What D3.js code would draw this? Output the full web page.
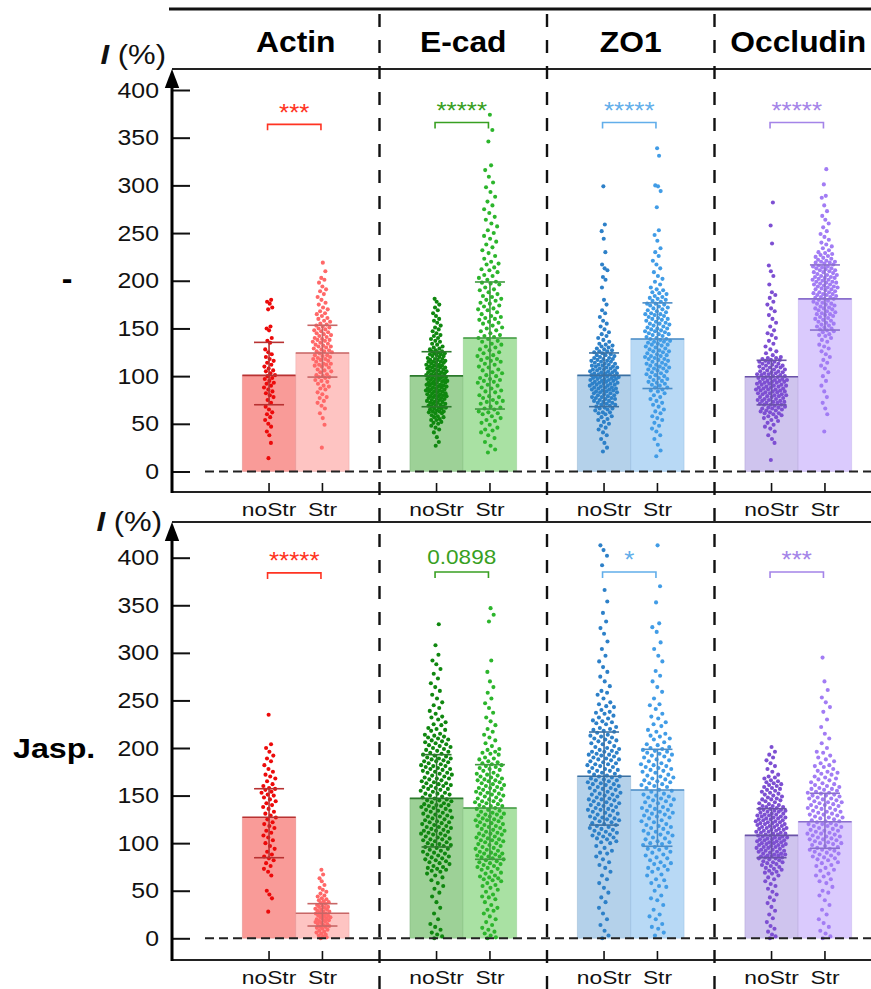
<!DOCTYPE html>
<html>
<head>
<meta charset="utf-8">
<script src="https://cdn.jsdelivr.net/npm/d3@7"></script>
<style>
  body { margin: 0; background: #fff; }
  svg text { font-family: "Liberation Sans", Arial, Helvetica, sans-serif; }
</style>
</head>
<body>
<svg id="chart" width="871" height="989"></svg>
<script>
// ---- categories & labels ----
const proteins = ["Actin", "E-cad", "ZO1", "Occludin"];
const conditions = ["noStr", "Str"];
const treatments = ["-", "Jasp."];
const yTicks = [0, 50, 100, 150, 200, 250, 300, 350, 400];

// ---- bar heights (mean) and whiskers, [protein][condition] ----
const meanCtrl  = [[100.8, 124.2], [100.3, 140.0], [100.8, 139.0], [99.4, 181.0]];
const lowerCtrl = [[70.0, 99.0], [67.9, 65.5], [68.0, 87.0], [69.9, 148.3]];
const upperCtrl = [[135.4, 153.3], [125.6, 198.7], [124.3, 176.8], [116.6, 216.6]];
const meanJasp  = [[127.2, 26.3], [147.1, 137.0], [170.3, 155.9], [108.2, 122.5]];
const lowerJasp = [[84.7, 12.9], [96.0, 83.0], [119.0, 96.7], [84.7, 94.6]];
const upperJasp = [[157.2, 36.4], [193.0, 182.5], [216.8, 198.6], [136.2, 152.4]];

// ---- significance ----
const sigCtrl = ["***", "*****", "*****", "*****"];
const sigJasp = ["*****", "0.0898", "*", "***"];
const sigLevelCtrl = [364, 366, 366, 366];
const sigLevelJasp = [384, 385, 385, 385];

// ---- single-cell intensities, untreated ----
const actinNoStrCtrl = [14,30,38,42,47,50,54,57,60,62,65,68,72,75,78,80,82,84,86,88,90,92,93,95,97,98,100,101,103,105,106,108,110,112,114,116,118,120,123,125,128,135,137,140,148,150,152,170,172,176,178,180];
const actinStrCtrl = [25,49,56,61,66,69,72,74,77,78,81,83,86,87,89,90,92,94,95,96,98,99,99,101,102,104,105,106,107,109,110,111,112,113,113,115,116,117,118,119,120,121,122,122,124,125,126,127,128,129,130,131,131,133,134,135,136,137,138,139,140,141,142,144,145,146,147,148,149,150,152,153,154,155,157,158,160,161,163,165,166,168,170,172,175,177,180,183,186,189,191,194,198,201,203,210,219,100,112,118,126,132,138,143,151];
const ecadNoStrCtrl = [27,31,36,41,44,46,48,50,51,52,54,54,55,57,57,58,59,61,61,62,63,63,64,65,66,66,67,67,68,69,69,70,71,71,72,73,73,74,75,75,76,77,77,78,79,79,80,80,81,82,82,83,84,84,85,86,86,87,87,88,89,89,90,90,91,91,92,93,93,94,94,95,96,96,97,98,98,99,100,100,101,101,102,103,103,104,105,105,106,107,107,108,109,109,110,110,111,112,112,113,114,115,115,116,117,118,118,119,120,121,122,123,123,124,125,126,127,128,129,130,131,133,134,136,137,139,140,142,143,145,147,149,151,153,156,158,160,163,166,169,172,175,178,181,63,72,76,81,85,88,93,97,99,102,106,111,114,117,121,124,79,91,104,115,68,84,96,109,126];
const ecadStrCtrl = [20,23,27,31,35,38,41,43,46,49,51,53,56,58,61,62,65,67,68,71,73,74,77,79,80,83,84,87,88,91,93,94,97,98,101,103,104,106,109,110,113,115,116,119,121,122,125,127,128,131,133,134,137,139,141,142,145,147,148,151,153,155,156,159,161,162,165,167,169,171,173,174,177,179,181,184,186,188,191,193,196,198,201,203,206,209,212,214,217,220,223,226,229,232,235,238,241,244,247,250,253,257,260,264,267,271,275,279,283,288,293,298,303,309,316,321,346,358,374,44,54,60,66,72,78,85,90,96,100,107,112,118,124,130,136,143,150,157,163,170,176,183,190,197,205,211,218,63,75,95,117,140,160,180,199];
const zo1NoStrCtrl = [21,25,30,34,38,41,44,46,48,50,52,54,55,57,58,60,61,62,64,65,66,67,68,69,70,71,72,72,73,74,75,76,77,77,78,79,80,80,81,82,83,83,84,85,86,86,87,88,88,89,90,90,91,92,92,93,94,94,95,95,96,97,97,98,99,99,100,100,101,102,102,103,104,104,105,106,106,107,108,108,109,110,111,111,112,113,114,115,115,116,117,118,119,120,121,122,123,124,125,126,127,128,130,131,133,134,136,138,140,142,144,146,149,152,155,158,162,166,169,175,180,193,201,204,211,213,217,230,244,252,259,299,62,66,70,74,78,82,85,88,91,93,96,98,101,103,105,107,110,113,116,119,122,126,129,132,76,87,97,100,109,118,84,92,103,112];
const zo1StrCtrl = [16,22,28,34,38,42,45,48,51,54,56,58,61,63,65,68,70,72,74,76,78,80,82,84,86,88,90,91,93,95,96,98,100,101,103,104,106,107,109,110,112,113,115,116,118,119,121,122,124,125,126,128,129,131,132,133,135,136,138,139,140,142,143,145,146,147,149,150,151,153,154,156,157,158,160,161,163,164,166,167,169,170,172,174,176,178,180,182,184,186,188,190,193,196,199,202,205,209,213,217,221,226,230,234,242,248,253,277,294,299,300,331,339,85,92,97,102,105,108,111,114,117,120,123,127,130,134,137,141,144,148,152,155,159,162,165,168,171,175,179,183,187,191,99,118,133,147,155,173,126,139,144,160,88,94,112,150,165,176,181,108,121,136];
const occlNoStrCtrl = [12,30,34,38,42,45,47,49,51,53,54,56,57,58,59,60,61,62,63,64,65,66,66,67,68,69,70,70,71,72,72,73,74,75,75,76,77,78,78,79,80,80,81,82,82,83,84,84,85,86,86,87,88,88,89,90,90,91,92,92,93,94,94,95,96,96,97,98,98,99,100,100,101,102,103,104,104,105,106,107,108,109,110,111,112,113,114,115,116,117,118,119,120,122,124,126,128,131,134,137,140,143,145,148,152,156,160,164,168,171,175,178,182,185,188,196,205,210,216,239,258,282,61,64,67,70,73,76,79,81,83,85,87,89,91,93,95,97,99,101,103,105,107,109,111,113,115,117,74,86,94,102,110,119];
const occlStrCtrl = [42,60,66,72,78,84,90,95,100,104,108,111,114,117,120,123,126,129,131,133,136,138,140,142,144,146,148,149,151,152,154,155,157,158,160,161,162,164,165,166,168,169,170,171,173,174,175,176,177,178,180,181,182,183,184,185,186,187,188,189,190,191,192,193,194,195,196,197,198,199,200,201,202,203,204,205,206,207,208,209,210,211,212,213,214,215,216,217,218,219,220,221,222,224,225,227,228,230,232,234,236,238,240,243,246,249,252,256,260,264,268,273,279,287,289,301,317,143,150,156,163,167,172,179,185,191,196,201,206,211,215,220,226,159,171,183,194,204,213,223,147,176,188,199,209,219,165,181,193,203,229,153,186,198];

// ---- single-cell intensities, jasplakinolide ----
const actinNoStrJasp = [28,42,46,50,66,70,73,76,79,82,84,86,88,91,94,97,100,103,106,108,111,113,116,118,120,122,125,127,129,131,133,136,138,140,142,144,146,148,150,151,153,154,156,157,158,160,162,165,168,170,172,175,178,182,186,189,192,196,200,204,235];
const actinStrJasp = [0,1,2,3,4,5,6,7,8,9,10,11,12,12,13,14,15,15,16,17,18,18,19,20,20,21,22,22,23,24,24,25,26,26,27,28,28,29,30,30,31,32,33,33,34,35,36,37,38,39,40,41,42,44,45,47,49,51,53,56,60,63,67,72];
const ecadNoStrJasp = [0,2,4,6,9,12,15,20,26,32,38,44,48,52,55,58,61,64,66,68,70,72,74,76,78,80,82,84,86,88,90,91,93,95,96,98,99,101,102,104,105,107,108,110,111,113,114,116,117,119,120,122,123,124,126,127,128,130,131,132,134,135,136,138,139,140,141,143,144,145,147,148,149,150,152,153,154,155,157,158,159,160,162,163,164,165,167,168,169,170,172,173,174,176,177,178,180,181,183,184,186,187,189,190,192,193,195,197,199,201,203,205,207,209,211,213,215,218,221,224,227,230,233,236,239,242,245,248,252,256,260,264,268,273,278,283,288,292,298,308,330,71,75,79,83,87,92,97,100,103,106,109,112,115,118,121,125,129,133,137,142,146,151,156,161,166,171,175,179,182,185,188,191,194,198,202,206,210,214,219,225,81,94,104,117,128,140,152,163,174,186,196,208,220,232,89,110,134,157,178,200,73,98,122,145,168,189,212,85,113,139,160,181,204];
const ecadStrJasp = [0,1,3,5,7,9,11,14,17,20,23,26,29,32,35,38,41,44,46,49,51,53,56,58,60,62,64,66,68,70,72,73,75,77,78,80,81,83,84,86,87,89,90,92,93,95,96,98,99,101,102,104,105,107,108,110,111,113,114,116,117,119,120,122,123,125,126,128,129,131,132,134,135,137,138,140,141,143,144,146,147,149,150,152,153,155,156,158,159,161,162,164,165,167,168,170,172,174,176,178,180,182,184,186,188,190,193,196,199,202,205,208,211,214,217,220,224,228,232,237,242,247,252,258,264,270,280,292,333,340,347,61,65,69,74,79,82,85,88,91,94,97,100,103,106,109,112,115,118,121,124,127,130,133,136,139,142,145,148,151,154,157,160,163,166,169,173,177,181,185,189,194,198,76,89,103,118,130,144,158,171,183,195,63,86,110,124,139,152,166,179,30,43,55];
const zo1NoStrJasp = [0,3,8,14,20,26,32,38,43,48,53,58,62,66,70,74,77,80,83,86,89,92,95,97,100,102,104,106,108,110,112,114,116,118,119,121,123,124,126,127,129,130,132,133,135,136,138,139,141,142,144,145,147,148,150,151,153,154,156,157,159,160,162,163,165,166,168,169,171,172,174,175,177,178,180,181,183,184,186,187,189,190,192,193,195,196,198,200,202,204,206,208,210,212,214,216,218,220,222,225,228,231,234,237,240,244,248,252,256,260,265,270,275,280,285,291,297,304,312,320,326,333,342,354,366,392,402,408,413,101,105,109,113,117,120,125,128,131,134,137,140,143,146,149,152,155,158,161,164,167,170,173,176,179,182,185,188,191,194,197,201,205,209,213,217,221,226,232,238,246,111,122,135,146,158,170,183,196,211,227,243,107,126,151,176,199,219,236,90,115,162,188,207,229,258,140,166,193];
const zo1StrJasp = [3,6,10,15,20,25,30,35,40,45,50,54,58,62,66,70,73,76,79,82,85,88,91,94,96,99,101,104,106,109,111,113,116,118,120,122,124,126,128,130,132,134,136,138,140,142,144,146,148,150,152,154,156,158,160,162,164,166,168,170,172,174,176,178,180,182,184,186,188,190,192,194,196,198,200,203,206,209,212,215,219,223,227,231,236,241,246,252,259,264,270,276,281,291,297,304,311,322,327,331,353,370,413,61,67,72,78,84,90,95,100,105,110,115,119,123,127,131,135,139,143,147,151,155,159,163,167,171,175,179,183,187,191,195,199,204,210,217,225,233,245,87,102,117,133,149,165,181,197,213,93,112,129,145,161,177,193,80,108,137,169,201,23,42,12,55,74,98];
const occlNoStrJasp = [0,2,4,7,10,13,17,21,25,29,33,37,40,43,46,49,52,55,57,60,62,64,66,68,70,72,73,75,76,78,79,81,82,84,85,86,87,88,89,90,91,92,93,94,95,96,97,98,99,100,101,102,103,104,105,106,107,108,109,110,111,112,113,114,115,116,117,118,119,120,121,122,123,124,125,126,127,128,129,130,131,132,133,134,135,136,137,138,139,140,142,144,146,148,150,152,154,156,158,160,162,164,166,168,170,172,175,178,181,184,187,190,193,196,201,71,74,77,80,83,85,87,89,91,93,95,97,99,101,103,105,107,109,111,113,115,117,119,121,123,125,127,129,131,133,135,138,141,145,149,153,157,161,165,169,80,86,92,98,104,110,116,122,128,134,143,151,159,96,106,118,126,139,147,88,100,112,124,136,155,163,69,84,102,114,130,146,108,120];
const occlStrJasp = [0,2,5,8,12,16,20,25,30,35,40,45,50,54,58,62,65,68,71,74,77,80,82,84,86,88,90,92,94,95,97,98,100,101,103,104,106,107,109,110,112,113,115,116,118,119,121,122,124,125,127,128,130,131,133,134,136,137,139,140,142,143,145,147,149,151,153,155,157,159,161,164,167,170,173,176,180,184,188,192,196,200,205,210,215,222,230,238,243,248,253,261,270,295,72,76,79,83,87,91,93,96,99,102,105,108,111,114,117,120,123,126,129,132,135,138,141,144,146,148,150,152,154,156,158,160,163,166,169,172,175,178,182,186,190,85,100,110,120,130,140,150,162,174,89,104,118,127,137,147,157,168,181,195,93,107,113,123,133,143,153,48,60,66];

const pointsCtrl = [[actinNoStrCtrl, actinStrCtrl], [ecadNoStrCtrl, ecadStrCtrl], [zo1NoStrCtrl, zo1StrCtrl], [occlNoStrCtrl, occlStrCtrl]];
const pointsJasp = [[actinNoStrJasp, actinStrJasp], [ecadNoStrJasp, ecadStrJasp], [zo1NoStrJasp, zo1StrJasp], [occlNoStrJasp, occlStrJasp]];

// ---- colours ----
const barFill  = [["#f99b98", "#fec4c2"], ["#9dd197", "#a9e1a3"], ["#b4d1ea", "#b8d9f5"], ["#cfc4ee", "#dacafd"]];
const dotFill  = [["#ec0a0a", "#ff6868"], ["#0f870f", "#2cb52c"], ["#2d80c8", "#419ce6"], ["#7d4fd2", "#a27cf4"]];
const errColor = [["#b83232", "#c86666"], ["#2c7a2c", "#3f9a3f"], ["#3a70a2", "#4b8cc6"], ["#6a52a8", "#8a6fcc"]];
const sigColor = ["#ff3322", "#38a022", "#62aeea", "#a484e8"];

// half-width of each dot cloud, px
const spreadCtrl = [[6, 10], [11, 13], [15, 13], [16, 13]];
const spreadJasp = [[8, 8], [16, 15], [17, 17], [16, 18]];

// ---- layout ----
const svg = d3.select("#chart");
const W = 871;
const FONT_X = 1.13; // horizontal stretch of the typeface

const x = d3.scaleBand().domain(proteins).range([212, 882]);
const xSub = d3.scaleBand().domain(conditions).range([-53.4, 53.4]);

const panels = [
  { treat: treatments[0], y: d3.scaleLinear().domain([0, 400]).range([471.5, 90]),
    top: 69, bottom: 492, unitBase: 64, unitEnd: 166, rowY: 289,
    mean: meanCtrl, lower: lowerCtrl, upper: upperCtrl, pts: pointsCtrl,
    sig: sigCtrl, sigLevel: sigLevelCtrl, spread: spreadCtrl },
  { treat: treatments[1], y: d3.scaleLinear().domain([0, 400]).range([938.3, 557.7]),
    top: 522, bottom: 960, unitBase: 531, unitEnd: 162, rowY: 758,
    mean: meanJasp, lower: lowerJasp, upper: upperJasp, pts: pointsJasp,
    sig: sigJasp, sigLevel: sigLevelJasp, spread: spreadJasp }
];

// top rule and column titles
svg.append("line").attr("x1", 169).attr("x2", W).attr("y1", 9).attr("y2", 9)
  .attr("stroke", "#111").attr("stroke-width", 3);

svg.selectAll("text.title").data(proteins).join("text")
  .attr("class", "title")
  .attr("transform", d => `translate(${x(d) + x.bandwidth() / 2},52) scale(1.06,1)`)
  .attr("text-anchor", "middle")
  .attr("font-size", 30).attr("font-weight", "bold").attr("fill", "#000")
  .text(d => d);

// sina-style horizontal spread from local point density
function spreadOffsets(vals, yScale, half) {
  const sorted = vals.slice().sort((a, b) => a - b);
  const py = sorted.map(v => yScale(v));
  const bw = 7;
  const dens = py.map(p => d3.sum(py, o => Math.exp(-0.5 * ((p - o) / bw) ** 2)));
  const dmax = d3.max(dens);
  return sorted.map((v, i) => {
    const u = ((i * 0.6180339887 + 0.31) % 1) * 2 - 1;
    return { v, dx: u * half * Math.pow(dens[i] / dmax, 0.6) };
  });
}

panels.forEach(P => {
  const g = svg.append("g");
  const y = P.y;

  // bars, dots, whiskers
  proteins.forEach((prot, pi) => {
    const cx = x(prot) + x.bandwidth() / 2;
    conditions.forEach((cond, ci) => {
      const bx = cx + xSub(cond);
      const bw = xSub.bandwidth();
      const mid = bx + bw / 2;
      g.append("rect")
        .attr("x", bx).attr("width", bw)
        .attr("y", y(P.mean[pi][ci])).attr("height", y(0) - y(P.mean[pi][ci]))
        .attr("fill", barFill[pi][ci])
        .attr("stroke", errColor[pi][ci]).attr("stroke-opacity", 0.18).attr("stroke-width", 1);

      const dots = spreadOffsets(P.pts[pi][ci], y, P.spread[pi][ci]);
      g.append("g").selectAll("circle").data(dots).join("circle")
        .attr("cx", d => mid + d.dx)
        .attr("cy", d => y(d.v))
        .attr("r", 2.05)
        .attr("fill", dotFill[pi][ci]);

      // bar top edge
      g.append("line")
        .attr("x1", bx).attr("x2", bx + bw)
        .attr("y1", y(P.mean[pi][ci])).attr("y2", y(P.mean[pi][ci]))
        .attr("stroke", errColor[pi][ci]).attr("stroke-width", 1.6);

      // whisker
      const ec = errColor[pi][ci];
      const wk = g.append("g").attr("stroke", ec).attr("stroke-width", 1.6);
      wk.append("line").attr("x1", mid).attr("x2", mid)
        .attr("y1", y(P.lower[pi][ci])).attr("y2", y(P.upper[pi][ci]));
      [P.lower[pi][ci], P.upper[pi][ci]].forEach(v => {
        wk.append("line").attr("x1", mid - 15).attr("x2", mid + 15)
          .attr("y1", y(v)).attr("y2", y(v));
      });
    });

    // significance bracket
    const xa = cx + xSub("noStr") + xSub.bandwidth() / 2 - 1.5;
    const xb = cx + xSub("Str") + xSub.bandwidth() / 2 - 1.5;
    const yb = y(P.sigLevel[pi]);
    g.append("path")
      .attr("d", `M${xa},${yb + 6}V${yb}H${xb}V${yb + 6}`)
      .attr("fill", "none").attr("stroke", sigColor[pi]).attr("stroke-width", 1.6);
    const isStars = /^\*+$/.test(P.sig[pi]);
    g.append("text")
      .attr("transform", `translate(${(xa + xb) / 2},${yb - (isStars ? 3.5 : 7.5)}) scale(${FONT_X},1)`)
      .attr("text-anchor", "middle")
      .attr("font-size", isStars ? 23 : 20)
      .attr("fill", sigColor[pi])
      .text(P.sig[pi]);
  });

  // zero reference
  g.append("line").attr("x1", 205).attr("x2", W).attr("y1", y(0)).attr("y2", y(0))
    .attr("stroke", "#222").attr("stroke-width", 2).attr("stroke-dasharray", "9,5");

  // frame lines
  g.append("line").attr("x1", 172).attr("x2", W).attr("y1", P.top).attr("y2", P.top)
    .attr("stroke", "#222").attr("stroke-width", 1.8);
  g.append("line").attr("x1", 171).attr("x2", W).attr("y1", P.bottom).attr("y2", P.bottom)
    .attr("stroke", "#222").attr("stroke-width", 2);

  // y axis
  const yAxis = d3.axisLeft(y).tickValues(yTicks).tickSize(-18).tickPadding(13 / FONT_X);
  const ya = g.append("g").attr("transform", "translate(172,0)").call(yAxis);
  ya.select(".domain").remove();
  ya.selectAll(".tick line").attr("stroke", "#111").attr("stroke-width", 2);
  ya.selectAll(".tick text")
    .attr("font-size", 22).attr("fill", "#111")
    .attr("font-family", "'Liberation Sans', Arial, sans-serif")
    .attr("transform", `scale(${FONT_X},1)`);
  g.append("line").attr("x1", 172).attr("x2", 172).attr("y1", P.top + 14).attr("y2", P.bottom + 1)
    .attr("stroke", "#000").attr("stroke-width", 3);
  g.append("path").attr("d", `M172,${P.top}L164.8,${P.top + 19}L179.2,${P.top + 19}Z`).attr("fill", "#000");

  // axis unit
  const u = g.append("text")
    .attr("transform", `translate(${P.unitEnd},${P.unitBase}) scale(1.15,1)`)
    .attr("text-anchor", "end").attr("font-size", 27).attr("fill", "#111");
  u.append("tspan").attr("font-weight", "bold").attr("font-style", "italic").text("I");
  u.append("tspan").text(" (%)");

  // x axes per protein
  proteins.forEach(prot => {
    const cx = x(prot) + x.bandwidth() / 2;
    const xa = g.append("g").attr("transform", `translate(${cx},${P.bottom})`)
      .call(d3.axisBottom(xSub).tickSize(-9).tickPadding(10.5));
    xa.select(".domain").remove();
    xa.selectAll(".tick line").attr("stroke", "#111").attr("stroke-width", 1.6);
    xa.selectAll(".tick text")
      .attr("font-size", 19).attr("fill", "#111")
      .attr("font-family", "'Liberation Sans', Arial, sans-serif")
      .attr("transform", "scale(1.2,1)");
  });

  // row label
  if (P.treat === "-") {
    g.append("text").attr("x", 67).attr("y", P.rowY).attr("text-anchor", "middle")
      .attr("font-size", 32).attr("font-weight", "bold").text(P.treat);
  } else {
    g.append("text").attr("transform", `translate(13,${P.rowY}) scale(1.15,1)`)
      .attr("font-size", 28).attr("font-weight", "bold").text(P.treat);
  }
});

// dashed column separators
svg.append("g").selectAll("line").data(proteins.slice(1)).join("line")
  .attr("x1", d => x(d)).attr("x2", d => x(d))
  .attr("y1", 14).attr("y2", 989)
  .attr("stroke", "#111").attr("stroke-width", 2.4).attr("stroke-dasharray", "13,13");
</script>
</body>
</html>
